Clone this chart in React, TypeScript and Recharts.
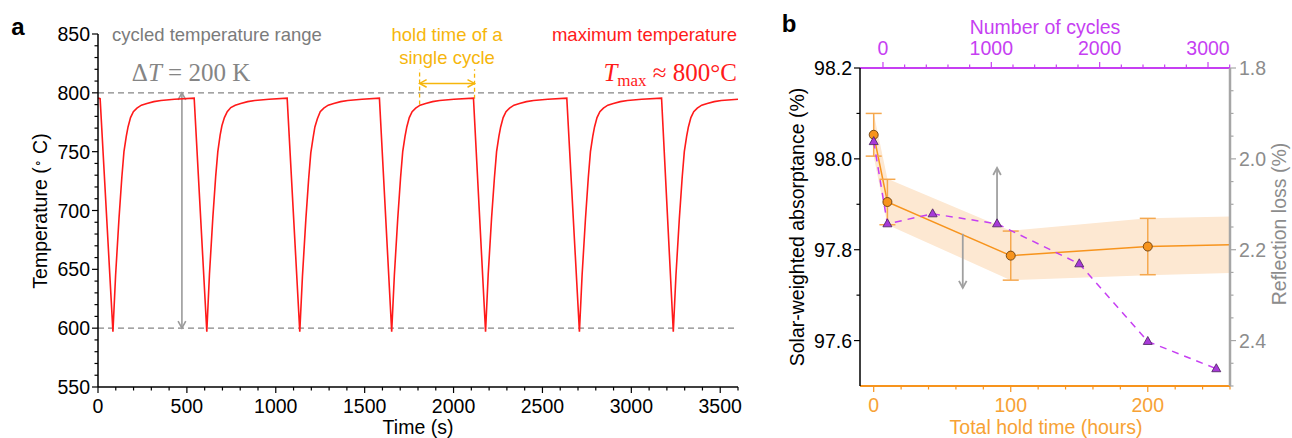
import React from 'react';
import { ComposedChart, LineChart, Line, Area, XAxis, YAxis, ReferenceLine, ErrorBar } from 'recharts';

const SANS = '"Liberation Sans", Arial, Helvetica, sans-serif';
const SERIF = '"Liberation Serif", "Times New Roman", serif';

const RED = '#ff1a1a';
const GOLD = '#f6b60c';
const GREY = '#858585';
const ORANGE = '#f7941d';
const ORANGE_TXT = '#f7a235';
const PURPLE = '#c63ff2';
const AXIS_GREY = '#a6a6a6';
const FS = 19.5;

// (a) measured temperature, one list per cycle: [time (s), temperature (°C)]
const cycle1 = [[0, 795.5], [12, 795], [84, 597], [99, 645], [118, 693], [134, 728], [146, 750], [159, 763], [169, 771], [183, 779], [199, 784], [219, 787], [244, 789.5], [275, 791], [314, 792.5], [354, 793.5], [430, 794.5], [541, 795.5]];
const cycle2 = [[612, 597], [627, 646], [646, 694], [662, 729], [674, 750], [687, 764], [697, 772], [711, 779], [727, 784], [747, 787.5], [772, 789.5], [803, 791], [842, 792.5], [882, 793.5], [962, 794.5], [1064, 795.5]];
const cycle3 = [[1135, 597], [1150, 644], [1169, 692], [1185, 727], [1197, 749], [1210, 762], [1220, 771], [1234, 778], [1250, 784], [1270, 787], [1295, 789.5], [1326, 791], [1365, 792.5], [1405, 793.5], [1485, 794.5], [1583, 795.5]];
const cycle4 = [[1652, 597], [1667, 645], [1686, 693], [1702, 728], [1714, 750], [1727, 763], [1737, 771], [1751, 779], [1767, 784], [1787, 787], [1812, 789.5], [1843, 791], [1882, 792.5], [1922, 793.5], [2002, 794.5], [2112, 795.5]];
const cycle5 = [[2180, 597], [2195, 646], [2214, 694], [2230, 728], [2242, 750], [2255, 763], [2265, 771], [2279, 779], [2295, 784], [2315, 787], [2340, 789.5], [2371, 791], [2410, 792.5], [2450, 793.5], [2530, 794.5], [2637, 795.5]];
const cycle6 = [[2708, 597], [2723, 645], [2742, 693], [2758, 728], [2770, 750], [2783, 763], [2793, 771], [2807, 779], [2823, 784], [2843, 787], [2868, 789.5], [2899, 791], [2938, 792.5], [2978, 793.5], [3058, 794.5], [3170, 795.5]];
const cycle7 = [[3236, 597], [3251, 645], [3270, 693], [3286, 728], [3298, 750], [3311, 763], [3321, 771], [3335, 779], [3351, 784], [3371, 787], [3396, 789.5], [3427, 791], [3466, 792.5], [3506, 793.5], [3600, 794.5]];

const timeMajor = [0, 500, 1000, 1500, 2000, 2500, 3000, 3500];
const tempMajor = [550, 600, 650, 700, 750, 800, 850];

// (b) solar-weighted absorptance (left axis) vs total hold time
const holdHours = [0, 10, 100, 200];
const absorptance = [98.053, 97.905, 97.787, 97.807];
const absorptanceErr = [0.047, 0.05, 0.054, 0.062];
const trendHours = [0, 10, 100, 200, 260];
const trendAbs = [98.053, 97.905, 97.787, 97.807, 97.811];
const bandLow = [98.006, 97.855, 97.733, 97.744, 97.749];
const bandHigh = [98.1, 97.956, 97.842, 97.869, 97.873];

// (b) reflection loss (right axis)
const lossHours = [0, 10, 43, 90, 150, 200, 250];
const reflectionLoss = [1.962, 2.143, 2.121, 2.143, 2.231, 2.402, 2.462];

const hoursMajor = [0, 100, 200];
const cyclesMajor = [0, 1000, 2000, 3000];
const absMajor = [97.6, 97.8, 98.0, 98.2];
const lossMajor = [1.8, 2.0, 2.2, 2.4];

const range = (a: number, b: number, s: number) => {
  const out: number[] = [];
  for (let v = a; v <= b + s / 1000; v += s) out.push(Number(v.toFixed(3)));
  return out;
};

const tempData = [cycle1, cycle2, cycle3, cycle4, cycle5, cycle6, cycle7].flat().map(([t, T]) => ({ t, T }));
const pointData = holdHours.map((h, i) => ({ h, v: absorptance[i], err: absorptanceErr[i] }));
const trendData = trendHours.map((h, i) => ({ h, v: trendAbs[i] }));
const bandData = trendHours.map((h, i) => ({ h, band: [bandLow[i], bandHigh[i]] }));
const lossData = lossHours.map((h, i) => ({ h, loss: reflectionLoss[i] }));
// anchors the top (cycles) axis, which carries no series of its own
const cycleAxisData = cyclesMajor.map((c) => ({ c }));

type Side = 'left' | 'right' | 'top' | 'bottom';

const makeTick = (side: Side, majors: number[], lineColor: string, textColor: string, fmt: (v: number) => string) => (props: any) => {
  const { x, y, payload } = props;
  const v = payload.value;
  const major = majors.some((m) => Math.abs(m - v) < 1e-6);
  const len = major ? 6 : 3.5;
  let line;
  let label = null;
  const tp = { fill: textColor, fontSize: FS, fontFamily: SANS };
  if (side === 'left') {
    line = <line x1={x - len} y1={y} x2={x} y2={y} stroke={lineColor} strokeWidth={1.2} />;
    if (major) label = <text x={x - 8} y={y} textAnchor="end" dominantBaseline="central" {...tp}>{fmt(v)}</text>;
  } else if (side === 'right') {
    line = <line x1={x} y1={y} x2={x + len} y2={y} stroke={lineColor} strokeWidth={1.2} />;
    if (major) label = <text x={x + 9} y={y} textAnchor="start" dominantBaseline="central" {...tp}>{fmt(v)}</text>;
  } else if (side === 'bottom') {
    line = <line x1={x} y1={y} x2={x} y2={y + len} stroke={lineColor} strokeWidth={1.2} />;
    if (major) label = <text x={x} y={y + 19} textAnchor="middle" dominantBaseline="central" {...tp}>{fmt(v)}</text>;
  } else {
    line = <line x1={x} y1={y - len} x2={x} y2={y} stroke={lineColor} strokeWidth={1.2} />;
    if (major) label = <text x={x} y={y - 20} textAnchor="middle" dominantBaseline="central" {...tp}>{fmt(v)}</text>;
  }
  return <g>{line}{label}</g>;
};

const head = (x: number, y: number, a: number, s = 8, w = 0.5) =>
  `M${x - s * Math.cos(a - w)},${y - s * Math.sin(a - w)} L${x},${y} L${x - s * Math.cos(a + w)},${y - s * Math.sin(a + w)}`;

const arrowShape = (color: string, both: boolean, width = 1.6) => (p: any) => {
  const { x1, y1, x2, y2 } = p;
  const a = Math.atan2(y2 - y1, x2 - x1);
  return (
    <g fill="none" stroke={color} strokeWidth={width}>
      <line x1={x1} y1={y1} x2={x2} y2={y2} />
      <path d={head(x2, y2, a)} />
      {both && <path d={head(x1, y1, a + Math.PI)} />}
    </g>
  );
};

const orangeDot = (p: any) => (
  <circle key={`o${p.index}`} cx={p.cx} cy={p.cy} r={4.5} fill={ORANGE} stroke="#6b3e10" strokeWidth={0.9} />
);
const triangleDot = (p: any) => (
  <path key={`t${p.index}`} d={`M${p.cx},${p.cy - 5} L${p.cx - 4.5},${p.cy + 3} L${p.cx + 4.5},${p.cy + 3} Z`} fill="#a73ad8" stroke="#4a1f5c" strokeWidth={0.8} />
);

const Txt = ({ x, y, children, style, anchor = 'middle' }: any) => {
  const tx = anchor === 'middle' ? '-50%' : anchor === 'end' ? '-100%' : '0';
  return (
    <div style={{ position: 'absolute', left: x, top: y, transform: `translate(${tx}, -50%)`, whiteSpace: 'nowrap', lineHeight: 1, fontFamily: SANS, fontSize: 18.5, ...style }}>
      {children}
    </div>
  );
};

const VTxt = ({ x, y, children, style }: any) => (
  <div style={{ position: 'absolute', left: x, top: y, transform: 'translate(-50%, -50%) rotate(-90deg)', whiteSpace: 'nowrap', lineHeight: 1, fontFamily: SANS, fontSize: FS, ...style }}>
    {children}
  </div>
);

export default function App() {
  return (
    <div style={{ position: 'absolute', left: 0, top: 0, width: 1292, height: 438, background: '#fff', overflow: 'hidden' }}>
      <div style={{ position: 'absolute', left: 0, top: 0 }}>
        <LineChart width={770} height={438} data={tempData} margin={{ top: 34, right: 32, left: 38, bottom: 21 }}>
          <XAxis dataKey="t" type="number" domain={[0, 3600]} allowDataOverflow ticks={range(0, 3600, 100)} interval={0}
            tickLine={false} tickSize={0} tickMargin={0} height={30} axisLine={{ stroke: '#000', strokeWidth: 1.5 }}
            tick={makeTick('bottom', timeMajor, '#000', '#000', (v) => String(v))} />
          <YAxis type="number" domain={[550, 850]} allowDataOverflow ticks={range(550, 850, 10)} interval={0}
            tickLine={false} tickSize={0} tickMargin={0} width={60} axisLine={{ stroke: '#000', strokeWidth: 1.5 }}
            tick={makeTick('left', tempMajor, '#000', '#000', (v) => String(v))} />
          <ReferenceLine y={800} stroke={GREY} strokeWidth={1.3} strokeDasharray="6 4" />
          <ReferenceLine y={600} stroke={GREY} strokeWidth={1.3} strokeDasharray="6 4" />
          <ReferenceLine segment={[{ x: 472, y: 600 }, { x: 472, y: 800 }]} stroke="#9a9a9a" shape={arrowShape('#9a9a9a', true)} />
          <ReferenceLine segment={[{ x: 1809, y: 790 }, { x: 1809, y: 820 }]} stroke={GOLD} strokeWidth={1.3} strokeDasharray="4 3" />
          <ReferenceLine segment={[{ x: 2118, y: 795 }, { x: 2118, y: 820 }]} stroke={GOLD} strokeWidth={1.3} strokeDasharray="4 3" />
          <ReferenceLine segment={[{ x: 1809, y: 808 }, { x: 2118, y: 808 }]} stroke={GOLD} shape={arrowShape(GOLD, true, 1.5)} />
          <Line dataKey="T" type="linear" stroke={RED} strokeWidth={1.6} dot={false} isAnimationActive={false} />
        </LineChart>
      </div>

      <div style={{ position: 'absolute', left: 760, top: 0 }}>
        <ComposedChart width={532} height={438} margin={{ top: 38, right: 12, left: 30, bottom: 22 }}>
          <XAxis xAxisId="h" dataKey="h" type="number" orientation="bottom" domain={[-10, 260]} allowDataOverflow
            ticks={range(0, 260, 20)} interval={0} tickLine={false} tickSize={0} tickMargin={0} height={30}
            axisLine={{ stroke: ORANGE, strokeWidth: 2 }} tick={makeTick('bottom', hoursMajor, ORANGE, ORANGE_TXT, (v) => String(v))} />
          <XAxis xAxisId="c" dataKey="c" type="number" orientation="top" domain={[-212, 3203]} allowDataOverflow
            ticks={range(0, 3200, 200)} interval={0} tickLine={false} tickSize={0} tickMargin={0} height={30}
            axisLine={{ stroke: PURPLE, strokeWidth: 2 }} tick={makeTick('top', cyclesMajor, PURPLE, PURPLE, (v) => String(v))} />
          <YAxis yAxisId="abs" type="number" orientation="left" domain={[97.5, 98.2]} allowDataOverflow
            ticks={range(97.6, 98.2, 0.1)} interval={0} tickLine={false} tickSize={0} tickMargin={0} width={70}
            axisLine={{ stroke: '#000', strokeWidth: 1.5 }} tick={makeTick('left', absMajor, '#000', '#000', (v) => v.toFixed(1))} />
          <YAxis yAxisId="loss" type="number" orientation="right" domain={[1.8, 2.5]} reversed allowDataOverflow
            ticks={range(1.8, 2.5, 0.05)} interval={0} tickLine={false} tickSize={0} tickMargin={0} width={50}
            axisLine={{ stroke: AXIS_GREY, strokeWidth: 2.5 }} tick={makeTick('right', lossMajor, AXIS_GREY, '#8c8c8c', (v) => v.toFixed(1))} />
          <Line xAxisId="c" yAxisId="loss" data={cycleAxisData} dataKey="none" stroke="none" dot={false} legendType="none" isAnimationActive={false} />
          <Area xAxisId="h" yAxisId="abs" data={bandData} dataKey="band" type="linear" stroke="none" fill="#fde8d2" fillOpacity={1} isAnimationActive={false} />
          <Line xAxisId="h" yAxisId="abs" data={trendData} dataKey="v" type="linear" stroke={ORANGE} strokeWidth={1.5} dot={false} isAnimationActive={false} />
          <Line xAxisId="h" yAxisId="abs" data={pointData} dataKey="v" stroke="none" dot={orangeDot} isAnimationActive={false}>
            <ErrorBar dataKey="err" width={8} stroke="#f5a84e" strokeWidth={1.5} direction="y" />
          </Line>
          <Line xAxisId="h" yAxisId="loss" data={lossData} dataKey="loss" type="linear" stroke={PURPLE} strokeWidth={1.5}
            strokeDasharray="7 6" dot={triangleDot} isAnimationActive={false} />
          <ReferenceLine xAxisId="h" yAxisId="abs" segment={[{ x: 90, y: 97.862 }, { x: 90, y: 97.98 }]} stroke="#a0a0a0" shape={arrowShape('#a0a0a0', false, 1.8)} />
          <ReferenceLine xAxisId="h" yAxisId="abs" segment={[{ x: 65, y: 97.835 }, { x: 65, y: 97.716 }]} stroke="#a0a0a0" shape={arrowShape('#a0a0a0', false, 1.8)} />
        </ComposedChart>
      </div>

      {/* panel a annotations */}
      <Txt x={18} y={27} style={{ fontSize: 24, fontWeight: 'bold' }}>a</Txt>
      <Txt x={217} y={35} style={{ color: '#7b7b7b' }}>cycled temperature range</Txt>
      <Txt x={191} y={72} style={{ color: GREY, fontFamily: SERIF, fontSize: 25 }}>Δ<i>T</i> = 200 K</Txt>
      <Txt x={447} y={35} style={{ color: GOLD }}>hold time of a</Txt>
      <Txt x={447} y={58} style={{ color: GOLD }}>single cycle</Txt>
      <Txt x={737} y={35} anchor="end" style={{ color: RED }}>maximum temperature</Txt>
      <Txt x={737} y={72} anchor="end" style={{ color: RED, fontFamily: SERIF, fontSize: 25 }}>
        <i>T</i><span style={{ fontSize: 17, position: 'relative', top: 5 }}>max</span> ≈ 800°C
      </Txt>
      <VTxt x={41} y={211}>Temperature (<span style={{ fontSize: 12, position: 'relative', top: -5 }}>∘</span> C)</VTxt>
      <Txt x={418} y={428} style={{ fontSize: FS }}>Time (s)</Txt>

      {/* panel b annotations */}
      <Txt x={789} y={24} style={{ fontSize: 24, fontWeight: 'bold' }}>b</Txt>
      <Txt x={1045} y={28} style={{ color: PURPLE, fontSize: FS }}>Number of cycles</Txt>
      <Txt x={1046} y={428} style={{ color: ORANGE_TXT, fontSize: FS }}>Total hold time (hours)</Txt>
      <VTxt x={798} y={227}>Solar-weighted absorptance (%)</VTxt>
      <VTxt x={1280} y={224} style={{ color: '#8c8c8c' }}>Reflection loss (%)</VTxt>
    </div>
  );
}
